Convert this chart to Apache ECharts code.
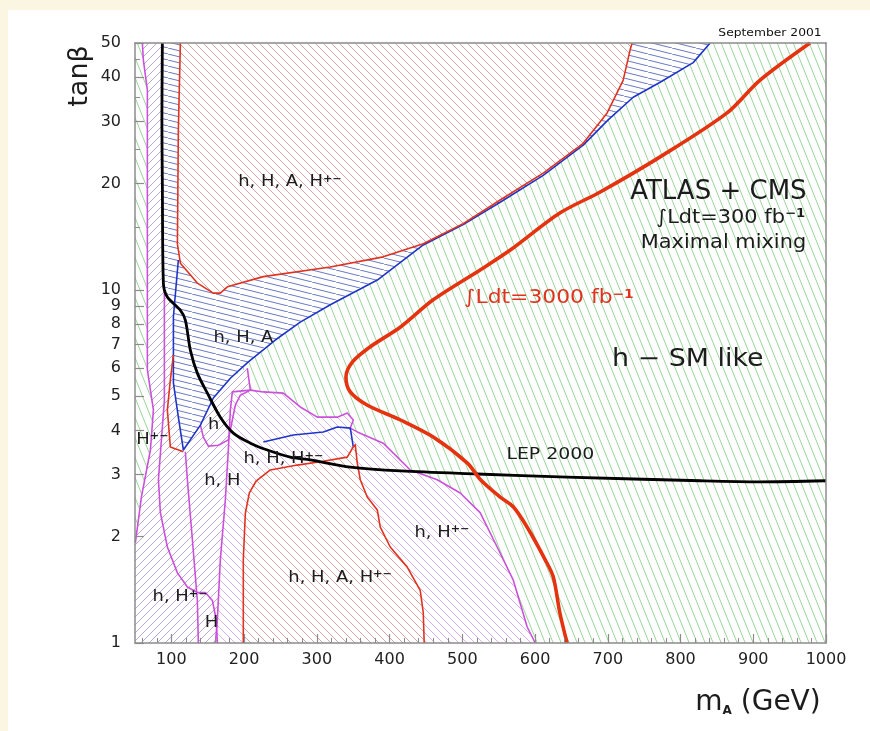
<!DOCTYPE html>
<html>
<head>
<meta charset="utf-8">
<script src="https://cdn.jsdelivr.net/npm/echarts@6/dist/echarts.min.js"></script>
<style>
  html, body { margin: 0; padding: 0; background: #fbf6e2; }
  #sheet { position: absolute; left: 8px; top: 10px; width: 862px; height: 721px; background: #ffffff; }
  #chart { position: absolute; left: 0; top: 0; width: 870px; height: 731px; }
</style>
</head>
<body>
<div id="sheet"></div>
<div id="chart"></div>
<script>
// ---------- axes ----------
const xTicks = [100, 200, 300, 400, 500, 600, 700, 800, 900, 1000];
const xMinor = [60, 80, 120, 140, 160, 180, 220, 240, 260, 280, 320, 340, 360, 380, 420, 440, 460, 480,
                520, 540, 560, 580, 620, 640, 660, 680, 720, 740, 760, 780, 820, 840, 860, 880, 920, 940, 960, 980];
const yTicks = [1, 2, 3, 4, 5, 6, 7, 8, 9, 10, 20, 30, 40, 50];
const yMinor = [15, 25, 35, 45];

// ---------- curves (m_A [GeV], tan beta) ----------
const lep2000 = [[87.6,50],[87.0,30],[87.6,20],[89.0,10.45],[94.5,9.54],[112,8.77],[119.2,8.21],[126.1,6.75],
  [135.7,5.81],[149.5,5.10],[167.3,4.36],[185.2,3.93],[208.6,3.68],[231.9,3.52],[263.5,3.36],[291,3.30],
  [346,3.15],[415,3.07],[520,3.01],[644,2.95],[827,2.88],[909,2.86],[1000,2.88]];

const lumi3000 = [[978,50],[909,39.2],[864,31.7],[772,23.8],[689,18.9],[634,16.5],[566,12.96],[525,11.4],
  [460,9.37],[415,7.85],[373,6.89],[349,6.25],[340,5.66],[346,5.14],[369,4.72],[415,4.28],[460,3.83],
  [507,3.23],[525,2.90],[552,2.59],[570,2.43],[589,2.13],[614,1.72],[625,1.54],[634,1.22],[644,1]];

// h, H, A, H+- (large tan beta)
const regionTop = [[112.4,50],[109.6,28.3],[108.3,13.5],[112.4,11.9],[135.7,10.45],[157.7,9.79],[167.3,9.79],
  [177,10.2],[226.4,10.9],[318.5,11.6],[391.3,12.4],[446.3,13.5],[501.2,15.4],[552,17.96],[611.2,21.4],
  [666.2,26.0],[699.1,31.7],[721.1,39.2],[730.8,47.9],[733.5,50]];

// h, H, A boundary
const blueEdge = [[840.7,50],[817.4,44.0],[772,38.7],[734.9,35.1],[700.5,30.3],[666.2,25.7],[611.2,21.1],
  [552,17.7],[501.2,15.3],[446.3,13.4],[383.1,10.66],[318.5,9.07],[277.2,8.10],[242.9,7.21],[205.8,6.25],
  [181.1,5.62],[157.7,4.94],[139.9,4.14],[116.5,3.52],[109.6,4.36],[102.8,5.45],[102.8,8.39],[109.6,12.15]];

const regionBlue = [[87.6,50],[840.7,50],[817.4,44.0],[772,38.7],[734.9,35.1],[700.5,30.3],[666.2,25.7],
  [611.2,21.1],[552,17.7],[501.2,15.3],[446.3,13.4],[383.1,10.66],[318.5,9.07],[277.2,8.10],[242.9,7.21],
  [205.8,6.25],[181.1,5.62],[157.7,4.94],[139.9,4.14],[116.5,3.52],[109.6,4.36],[102.8,5.45],[102.8,8.39],
  [104.1,8.95],[94.5,9.54],[89.0,10.45],[87.6,20]];

// h, H, A, H+- (small tan beta)
const regionBottom = [[198.9,1],[198.9,1.72],[201.7,2.33],[207.2,2.66],[216.8,2.88],[236.1,3.09],[273.1,3.19],
  [304.7,3.26],[341.8,3.36],[350.1,3.59],[352.8,3.64],[355.6,3.23],[359.7,2.90],[369.3,2.59],[383.1,2.38],
  [387.2,2.13],[400.9,1.87],[424.3,1.64],[442.1,1.41],[446.3,1.22],[447.6,1]];

// low-mass envelope (magenta contours)
const magRight = [[600.2,1],[589.2,1.11],[569.9,1.51],[547.9,1.87],[524.5,2.34],[497.1,2.66],[465.5,2.90],
  [428.4,3.09],[391.3,3.68],[355.6,3.96],[346,4.06],[350.1,4.28],[341.8,4.48],[328.1,4.36],[300.6,4.36],
  [277.2,4.66],[253.9,5.10],[226.4,5.14],[208.6,5.20],[204.4,6.0]];
const magLeft = [[60.1,50],[61.5,44.7],[67,36.8],[67,12.96],[67,5.93],[75.3,4.57],[71.2,3.52],[58.8,2.59],[50.5,1.92]];
const magHHpm = [[160.5,1],[163.2,1.16],[167.3,1.72],[174.2,2.54],[178.3,3.52],[181.1,4.57],[183.8,5.14],[208.6,5.20]];
const magHpm = [[90.4,10],[90.4,4.87],[82.2,2.90],[84.9,2.34],[94.5,1.87],[108.3,1.58],[122,1.44],[135.7,1.39],
  [146.7,1.39],[156.4,1.32],[161.8,1.16],[163.2,1]];
const magH = [[119.2,3.48],[122,2.90],[128.9,1.96],[135.7,1.32],[137.1,1]];
const magSmallH = [[208.6,5.20],[194.9,5.03],[188,4.72],[183.8,4.28],[178.3,3.76],[164.6,3.63],[150.9,3.61],
  [144,3.83],[139.9,4.14]];
const redHpm = [[102.8,6.54],[98.6,5.55],[94.5,4.57],[98.6,3.59],[116.5,3.48]];
const blueHHpm = [[226.4,3.71],[267.6,3.88],[308.9,3.96],[328.1,4.09],[346,4.06],[350.1,3.59]];

const regionMagenta = [].concat(
  magLeft, [[50,1.92],[50,1]], magRight,
  [[181.1,5.62],[157.7,4.94],[139.9,4.14],[116.5,3.52],[109.6,4.36],[102.8,5.45],[102.8,8.39],
   [104.1,8.95],[94.5,9.54],[89.0,10.45],[87.6,20.1],[87.6,50]]);
const regionHHpm = [].concat(
  [[183.8,5.14]], magRight.slice(0, 19).reverse(),
  [[160.5,1],[163.2,1.16],[167.3,1.72],[174.2,2.54],[178.3,3.52],[181.1,4.57]]);
const plotArea = [[50,1],[1000,1],[1000,50],[50,50]];

// ---------- annotations (text, m_A, tan beta, kind) ----------
const notes = [
  ['h, H, A, H{s|+−}', 263, 20.2, 'region'],
  ['h, H, A', 199, 7.3, 'region'],
  ['h', 158, 4.14, 'region'],
  ['H{s|+−}', 74, 3.76, 'region'],
  ['h, H, H{s|+−}', 254, 3.32, 'region'],
  ['h, H', 170, 2.88, 'region'],
  ['h, H{s|+−}', 472, 2.05, 'region'],
  ['h, H, A, H{s|+−}', 332, 1.53, 'region'],
  ['h, H{s|+−}', 112, 1.35, 'region'],
  ['H', 155, 1.14, 'region'],
  ['ATLAS + CMS', 852, 18.9, 'title'],
  ['∫Ldt=300 fb{s|−1}', 869, 16.0, 'sub'],
  ['Maximal mixing', 859, 13.6, 'sub'],
  ['∫Ldt=3000 fb{s|−1}', 619, 9.45, 'lumi'],
  ['h − SM like', 810, 6.33, 'sm'],
  ['LEP 2000', 621, 3.41, 'lep']
];

// ---------- styling ----------
const FONT = '"DejaVu Sans", sans-serif';
const INK = '#1c1c1c';
const noteStyle = {
  region: { size: 16, color: INK, sx: 1.12 },
  title:  { size: 26, color: INK, sx: 1.0 },
  sub:    { size: 19, color: INK, sx: 1.1 },
  lumi:   { size: 19, color: '#e0321e', sx: 1.15 },
  sm:     { size: 24, color: INK, sx: 1.12 },
  lep:    { size: 16, color: INK, sx: 1.18 }
};

function hatch(color, w, h, dir, lw) {
  const c = document.createElement('canvas');
  c.width = w; c.height = h;
  const g = c.getContext('2d');
  g.fillStyle = '#ffffff';
  g.fillRect(0, 0, w, h);
  g.strokeStyle = color;
  g.lineWidth = lw;
  g.beginPath();
  for (let k = -1; k <= 1; k++) {
    if (dir === 'back') { g.moveTo(k * w, 0); g.lineTo(k * w + w, h); }
    else { g.moveTo(k * w, h); g.lineTo(k * w + w, 0); }
  }
  g.stroke();
  return { image: c, repeat: 'repeat' };
}

const fillGreen = hatch('#98d698', 8, 20, 'back', 1);
const fillRed = hatch('#d3a6a6', 8, 8, 'back', 1);
const fillBlue = hatch('#6a78c0', 24, 6, 'back', 1);
const fillMag = hatch('#b9a9cf', 8, 8, 'fwd', 1);
const fillPink = hatch('#d8b2e2', 8, 8, 'back', 1);

const RED = '#e0321e', BLUE = '#1f35c8', MAG = '#cc50dc';

function area(pts, fill, z) {
  return {
    type: 'custom', silent: true, z: z, clip: true,
    data: [[500, 5]],
    renderItem: (params, api) => ({
      type: 'polygon',
      shape: { points: pts.map(p => api.coord(p)) },
      style: { fill: fill, stroke: null }
    })
  };
}
function curve(pts, color, width, z, smooth) {
  return {
    type: 'line', data: pts, z: z, silent: true, symbol: 'none', showSymbol: false,
    smooth: smooth || false,
    lineStyle: { color: color, width: width, join: 'round' }, clip: true
  };
}

const axisGrey = '#8c8c8c';
const plain = v => String(v);
const chart = echarts.init(document.getElementById('chart'));
chart.setOption({
  animation: false,
  grid: { left: 135, right: 44, top: 43, bottom: 88 },
  graphic: [
    { type: 'text', x: 770, y: 33, scaleX: 1.12, z: 50,
      style: { text: 'September 2001', font: '11px ' + FONT, fill: '#111', align: 'center', verticalAlign: 'middle' } },
    { type: 'text', x: 80, y: 76, rotation: Math.PI / 2, z: 50,
      style: { text: 'tanβ', font: '27px ' + FONT, fill: INK, align: 'center', verticalAlign: 'middle' } },
    { type: 'text', x: 758, y: 703, z: 50,
      style: { text: 'm{a|A} (GeV)', font: '28px ' + FONT, fill: INK, align: 'center', verticalAlign: 'middle',
               rich: { a: { fontSize: 12, fontWeight: 'bold', fontFamily: FONT, fill: INK, verticalAlign: 'bottom' } } } }
  ],
  xAxis: [
    { type: 'value', min: 50, max: 1000, position: 'bottom', z: 30,
      axisLine: { show: true, onZero: false, lineStyle: { color: axisGrey, width: 1.5 } },
      axisTick: { show: true, inside: true, length: 9, customValues: xTicks, lineStyle: { color: axisGrey, width: 1.2 } },
      axisLabel: { show: true, customValues: xTicks, formatter: plain, margin: 9, color: '#222', fontSize: 16, fontFamily: FONT },
      splitLine: { show: false } },
    { type: 'value', min: 50, max: 1000, position: 'bottom', z: 30,
      axisLine: { show: false },
      axisTick: { show: true, inside: true, length: 5, customValues: xMinor, lineStyle: { color: axisGrey, width: 1 } },
      axisLabel: { show: false }, splitLine: { show: false } },
    { type: 'value', min: 50, max: 1000, position: 'top', z: 30,
      axisLine: { show: true, onZero: false, lineStyle: { color: axisGrey, width: 1.5 } },
      axisTick: { show: false }, axisLabel: { show: false }, splitLine: { show: false } }
  ],
  yAxis: [
    { type: 'log', logBase: 10, min: 1, max: 50, position: 'left', z: 30,
      axisLine: { show: true, onZero: false, lineStyle: { color: axisGrey, width: 1.5 } },
      axisTick: { show: true, inside: true, length: 9, customValues: yTicks, lineStyle: { color: axisGrey, width: 1.2 } },
      axisLabel: { show: true, customValues: yTicks, formatter: plain, margin: 14, color: '#222', fontSize: 16, fontFamily: FONT },
      splitLine: { show: false } },
    { type: 'log', logBase: 10, min: 1, max: 50, position: 'left', z: 30,
      axisLine: { show: false },
      axisTick: { show: true, inside: true, length: 5, customValues: yMinor, lineStyle: { color: axisGrey, width: 1 } },
      axisLabel: { show: false }, splitLine: { show: false } },
    { type: 'log', logBase: 10, min: 1, max: 50, position: 'right', z: 30,
      axisLine: { show: true, onZero: false, lineStyle: { color: axisGrey, width: 1.5 } },
      axisTick: { show: false }, axisLabel: { show: false }, splitLine: { show: false } }
  ],
  series: [
    area(plotArea, fillGreen, 2),
    area(regionMagenta, fillMag, 3),
    area(regionHHpm, fillPink, 4),
    area(regionBlue, fillBlue, 5),
    area(regionTop, fillRed, 6),
    area(regionBottom, fillRed, 7),
    curve(magLeft, MAG, 1.6, 10),
    curve(magRight, MAG, 1.6, 10),
    curve(magHHpm, MAG, 1.6, 10),
    curve(magHpm, MAG, 1.6, 10),
    curve(magH, MAG, 1.6, 10),
    curve(magSmallH, MAG, 1.6, 10),
    curve(blueEdge, BLUE, 1.6, 11),
    curve(blueHHpm, BLUE, 1.6, 11),
    curve(redHpm, RED, 1.6, 12),
    curve(regionTop, RED, 1.6, 12),
    curve(regionBottom, RED, 1.6, 12),
    curve(lep2000, '#000000', 2.8, 14, 0.3),
    curve(lumi3000, '#e5330f', 3.6, 15, 0.3),
    {
      type: 'custom', silent: true, z: 20, clip: false,
      data: notes.map(n => [n[1], n[2]]),
      renderItem: (params, api) => {
        const n = notes[params.dataIndex];
        const st = noteStyle[n[3]];
        const p = api.coord([n[1], n[2]]);
        return {
          type: 'text', x: p[0], y: p[1], scaleX: st.sx,
          style: {
            text: n[0], fill: st.color, fontSize: st.size, fontFamily: FONT,
            align: 'center', verticalAlign: 'middle',
            rich: { s: { fontSize: Math.round(st.size * 0.62), fontFamily: FONT, fontWeight: 'bold',
                         fill: st.color, verticalAlign: 'top' } }
          }
        };
      }
    }
  ]
});
</script>
</body>
</html>
